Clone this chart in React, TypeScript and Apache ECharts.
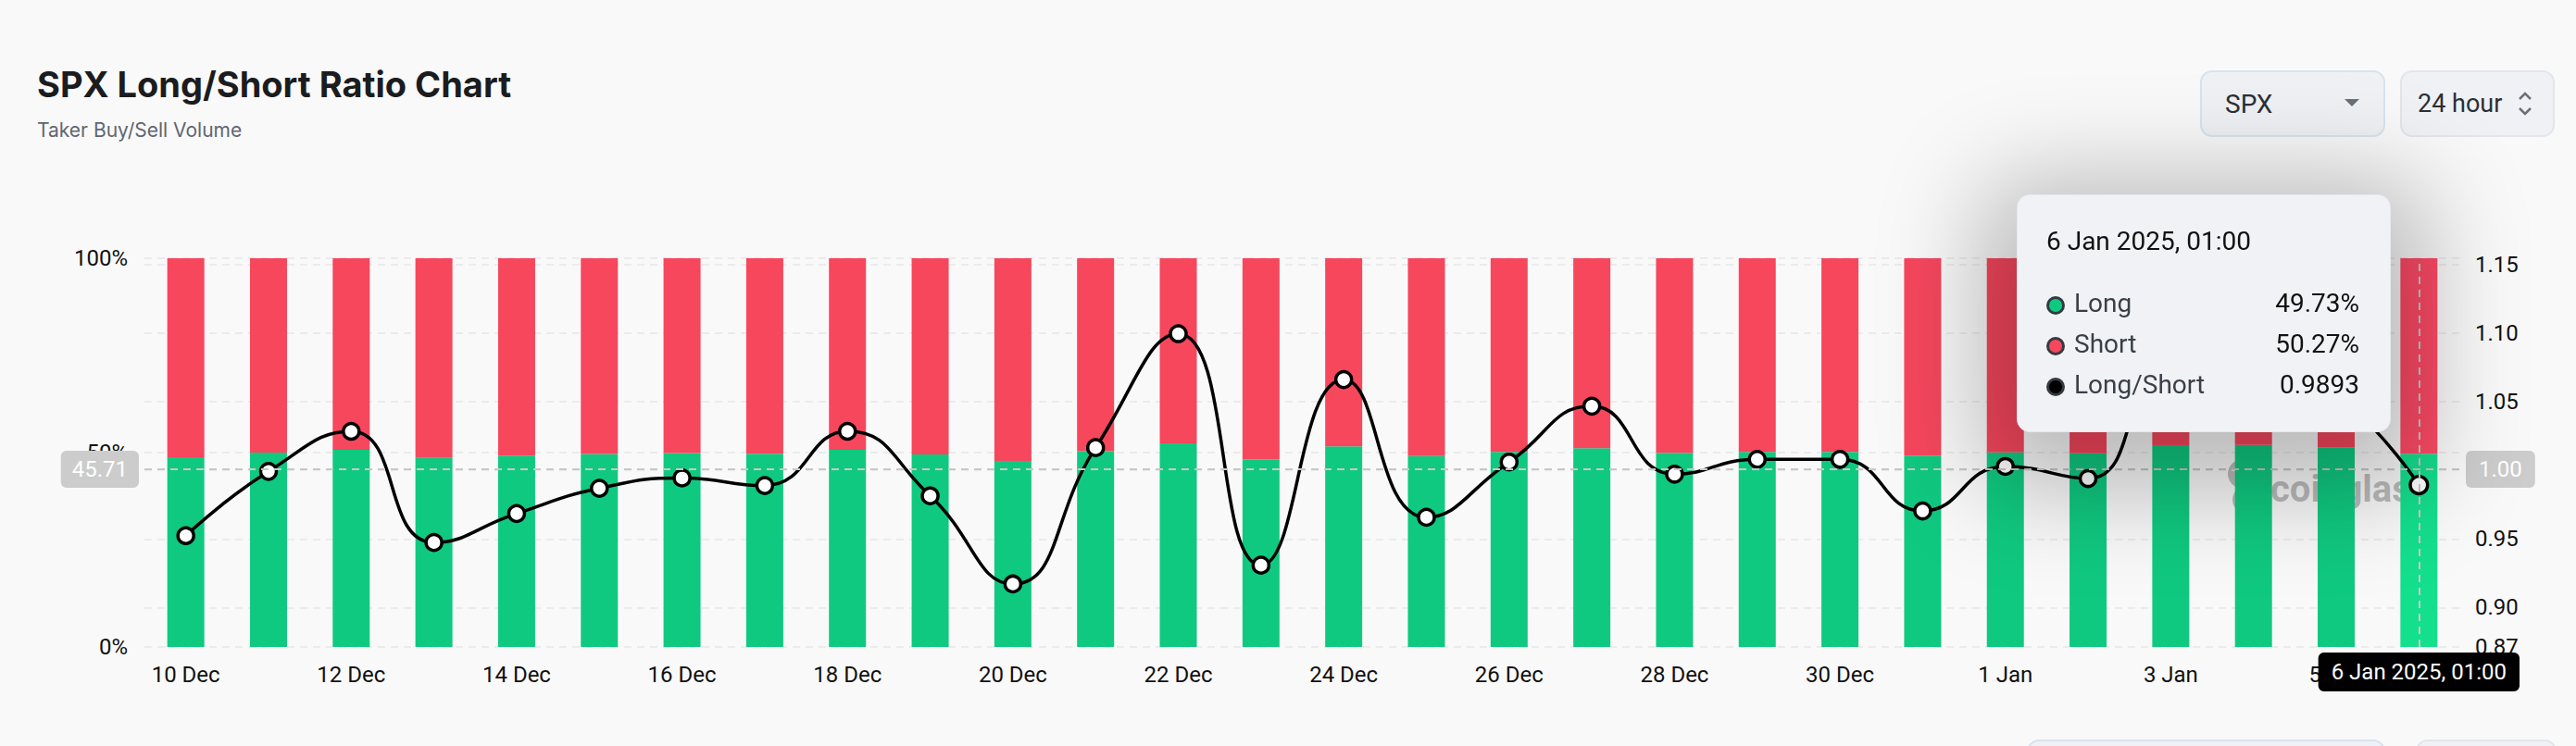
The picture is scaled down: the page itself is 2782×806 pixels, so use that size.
import React, { useEffect, useRef } from "react";
import * as echarts from "echarts";

const categories = [
  "10 Dec", "11 Dec", "12 Dec", "13 Dec", "14 Dec", "15 Dec", "16 Dec",
  "17 Dec", "18 Dec", "19 Dec", "20 Dec", "21 Dec", "22 Dec", "23 Dec",
  "24 Dec", "25 Dec", "26 Dec", "27 Dec", "28 Dec", "29 Dec", "30 Dec",
  "31 Dec", "1 Jan", "2 Jan", "3 Jan", "4 Jan", "5 Jan", "6 Jan",
];

const fullDates = [
  "10 Dec 2024, 01:00", "11 Dec 2024, 01:00", "12 Dec 2024, 01:00", "13 Dec 2024, 01:00",
  "14 Dec 2024, 01:00", "15 Dec 2024, 01:00", "16 Dec 2024, 01:00", "17 Dec 2024, 01:00",
  "18 Dec 2024, 01:00", "19 Dec 2024, 01:00", "20 Dec 2024, 01:00", "21 Dec 2024, 01:00",
  "22 Dec 2024, 01:00", "23 Dec 2024, 01:00", "24 Dec 2024, 01:00", "25 Dec 2024, 01:00",
  "26 Dec 2024, 01:00", "27 Dec 2024, 01:00", "28 Dec 2024, 01:00", "29 Dec 2024, 01:00",
  "30 Dec 2024, 01:00", "31 Dec 2024, 01:00", "1 Jan 2025, 01:00", "2 Jan 2025, 01:00",
  "3 Jan 2025, 01:00", "4 Jan 2025, 01:00", "5 Jan 2025, 01:00", "6 Jan 2025, 01:00",
];

const longPct = [
  48.78, 49.98, 50.70, 48.65, 49.20, 49.67, 49.86, 49.72, 50.70, 49.53, 47.84, 50.41, 52.37, 48.21,
  51.60, 49.13, 50.15, 51.14, 49.93, 50.20, 50.20, 49.25, 50.07, 49.85, 51.90, 51.98, 51.35, 49.73,
];

const shortPct = [
  51.22, 50.02, 49.30, 51.35, 50.80, 50.33, 50.14, 50.28, 49.30, 50.47, 52.16, 49.59, 47.63, 51.79,
  48.40, 50.87, 49.85, 48.86, 50.07, 49.80, 49.80, 50.75, 49.93, 50.15, 48.10, 48.02, 48.65, 50.27,
];

const ratio = [
  0.9524, 0.9992, 1.0284, 0.9474, 0.9685, 0.9869, 0.9944, 0.9889, 1.0284, 0.9814, 0.9172, 1.0165, 1.0995, 0.9309,
  1.0661, 0.9658, 1.0060, 1.0467, 0.9972, 1.0080, 1.0080, 0.9704, 1.0028, 0.9940, 1.0790, 1.0825, 1.0555, 0.9893,
];

const leftTicks = { min: 0, max: 100, interval: 50 };

const GREEN = "#10c980";
const RED = "#f6475d";
const FONT = "Roboto, 'Noto Sans', sans-serif";
const WM = "rgba(125,125,125,0.5)";

export default function App() {
  const ref = useRef<HTMLDivElement>(null);

  useEffect(() => {
    if (!ref.current) return;
    const chart = echarts.init(ref.current, null, { renderer: "svg" });

    const marker = (c: string) =>
      `<span style="display:inline-block;width:20px;height:20px;border-radius:50%;box-sizing:border-box;border:3px solid #353a42;background:${c};margin-right:10px;vertical-align:middle"></span>`;

    const option: any = {
      animation: false,
      backgroundColor: "#f9f9f9",
      textStyle: { fontFamily: FONT },
      grid: { left: 156, right: 125, top: 279, bottom: 107, containLabel: false },
      tooltip: {
        trigger: "axis",
        triggerOn: "none",
        alwaysShowContent: true,
        transitionDuration: 0,
        position: [2178, 210],
        backgroundColor: "#f0f2f5",
        borderColor: "#e6e8ec",
        borderWidth: 1,
        padding: [30, 33, 28, 31],
        textStyle: { fontFamily: FONT, fontSize: 28, color: "#111" },
        extraCssText:
          "border-radius:14px;box-shadow:0 24px 110px 40px rgba(0,0,0,0.26);",
        axisPointer: {
          type: "cross",
          crossStyle: { color: "#c8c8c8", width: 2, type: [8, 6] },
          lineStyle: { color: "#c8c8c8", width: 2, type: [8, 6] },
        },
        formatter: (params: any[]) => {
          const idx = params[0].dataIndex;
          const row = (c: string, name: string, val: string) =>
            `<div style="display:flex;justify-content:space-between;align-items:center;height:44px;width:338px">` +
            `<span style="color:#3a3f48">${marker(c)}${name}</span><span style="color:#111">${val}</span></div>`;
          return (
            `<div style="font-family:${FONT};font-size:28px;line-height:40px;color:#111;margin-bottom:25px">${fullDates[idx]}</div>` +
            row(GREEN, "Long", longPct[idx].toFixed(2) + "%") +
            row(RED, "Short", shortPct[idx].toFixed(2) + "%") +
            row("#000", "Long/Short", ratio[idx].toFixed(4))
          );
        },
      },
      xAxis: {
        type: "category",
        data: categories,
        axisLine: { show: false },
        axisTick: { show: false },
        axisLabel: { interval: 1, fontSize: 24, color: "#111", margin: 18, fontFamily: FONT },
        axisPointer: {
          label: {
            backgroundColor: "#000",
            color: "#fff",
            fontSize: 24,
            padding: [9, 14, 9, 14],
            borderRadius: 6,
            margin: 6,
            fontFamily: FONT,
            formatter: (p: any) => {
              const i = categories.indexOf(p.value);
              return i >= 0 ? fullDates[i] : p.value;
            },
          },
        },
      },
      yAxis: [
        {
          type: "value",
          min: leftTicks.min,
          max: leftTicks.max,
          interval: leftTicks.interval,
          position: "left",
          axisLine: { show: false },
          axisTick: { show: false },
          axisLabel: { formatter: "{value}%", fontSize: 24, color: "#111", margin: 18, fontFamily: FONT },
          splitLine: { lineStyle: { color: "#ebebeb", width: 2, type: [8, 6] } },
          axisPointer: {
            label: {
              backgroundColor: "#cccccc",
              color: "#fff",
              fontSize: 24,
              padding: [8, 12, 8, 12],
              borderRadius: 6,
              margin: 6,
              fontFamily: FONT,
              formatter: (p: any) => Number(p.value).toFixed(2),
            },
          },
        },
        {
          type: "value",
          position: "right",
          min: (v: any) => v.min * 0.95,
          max: (v: any) => v.max * 1.05,
          axisLine: { show: false },
          axisTick: { show: false },
          axisLabel: {
            fontSize: 24,
            color: "#111",
            margin: 16,
            showMaxLabel: false,
            fontFamily: FONT,
            formatter: (v: number) => v.toFixed(2),
          },
          splitLine: { lineStyle: { color: "#ebebeb", width: 2, type: [8, 6] } },
          axisPointer: {
            label: {
              backgroundColor: "#cccccc",
              color: "#fff",
              fontSize: 24,
              padding: [8, 14, 8, 14],
              borderRadius: 6,
              margin: 6,
              fontFamily: FONT,
              formatter: (p: any) => Number(p.value).toFixed(2),
            },
          },
        },
      ],
      series: [
        {
          name: "Long",
          type: "bar",
          stack: "ls",
          barWidth: 40,
          yAxisIndex: 0,
          data: longPct,
          itemStyle: { color: GREEN },
          emphasis: { itemStyle: { color: "#14df8d" } },
        },
        {
          name: "Short",
          type: "bar",
          stack: "ls",
          barWidth: 40,
          yAxisIndex: 0,
          data: shortPct,
          itemStyle: { color: RED },
          emphasis: { itemStyle: { color: "#ff4b66" } },
        },
        {
          name: "Long/Short",
          type: "line",
          yAxisIndex: 1,
          data: ratio,
          smooth: true,
          symbol: "circle",
          symbolSize: 17,
          z: 5,
          lineStyle: { color: "#000", width: 3.5 },
          itemStyle: { color: "#fff", borderColor: "#000", borderWidth: 3.5 },
          emphasis: { disabled: true },
        },
      ],
      graphic: [
        {
          type: "text",
          left: 40,
          top: 72,
          style: {
            text: "SPX Long/Short Ratio Chart",
            fontSize: 38,
            fontWeight: 700,
            fontFamily: "Inter, sans-serif",
            fill: "#1b1c1f",
          },
        },
        {
          type: "text",
          left: 40,
          top: 130,
          style: {
            text: "Taker Buy/Sell Volume",
            fontSize: 21,
            fontFamily: "Inter, sans-serif",
            fill: "#5f6672",
          },
        },
        {
          type: "rect",
          shape: { x: 2377, y: 77, width: 198, height: 70, r: 12 },
          style: { fill: "#eff1f5", stroke: "#d8e3ed", lineWidth: 2 },
        },
        {
          type: "text",
          x: 2403,
          y: 112,
          style: { text: "SPX", fontSize: 28, fontFamily: FONT, fill: "#2b2f36", verticalAlign: "middle" },
        },
        {
          type: "polygon",
          shape: { points: [[2532, 107], [2548, 107], [2540, 115]] },
          style: { fill: "#6a7079" },
        },
        {
          type: "rect",
          shape: { x: 2593, y: 77, width: 165, height: 70, r: 12 },
          style: { fill: "#eff1f5", stroke: "#e2e5e9", lineWidth: 2 },
        },
        {
          type: "text",
          x: 2611,
          y: 112,
          style: { text: "24 hour", fontSize: 27, fontFamily: FONT, fill: "#2b2f36", verticalAlign: "middle" },
        },
        {
          type: "polyline",
          shape: { points: [[2721, 107], [2727, 101], [2733, 107]] },
          style: { stroke: "#6a7079", lineWidth: 2.5, fill: "none" },
        },
        {
          type: "polyline",
          shape: { points: [[2721, 117], [2727, 123], [2733, 117]] },
          style: { stroke: "#6a7079", lineWidth: 2.5, fill: "none" },
        },
        {
          type: "rect",
          shape: { x: 2190, y: 800, width: 385, height: 40, r: 12 },
          style: { fill: "#eff1f5", stroke: "#d8e3ed", lineWidth: 2 },
        },
        {
          type: "rect",
          shape: { x: 2610, y: 800, width: 150, height: 40, r: 12 },
          style: { fill: "#eff1f5", stroke: "#e2e5e9", lineWidth: 2 },
        },
        {
          type: "group",
          z: 20,
          children: [
            {
              type: "circle",
              shape: { cx: 2422, cy: 512, r: 16 },
              style: { fill: WM },
            },
            {
              type: "ellipse",
              shape: { cx: 2422, cy: 540, rx: 11, ry: 13 },
              style: { fill: WM },
            },
            {
              type: "text",
              x: 2452,
              y: 528,
              style: {
                text: "coinglass",
                fontSize: 40,
                fontWeight: 700,
                fontFamily: FONT,
                fill: WM,
                verticalAlign: "middle",
              },
            },
          ],
        },
      ],
    };

    chart.setOption(option);
    const show = () => chart.dispatchAction({ type: "showTip", x: 2612, y: 507 });
    show();
    const t = setTimeout(show, 30);

    return () => {
      clearTimeout(t);
      chart.dispose();
    };
  }, []);

  return (
    <div style={{ position: "fixed", left: 0, top: 0, width: 2782, height: 806, overflow: "hidden" }}>
      <div ref={ref} style={{ width: 2782, height: 806 }} />
    </div>
  );
}
